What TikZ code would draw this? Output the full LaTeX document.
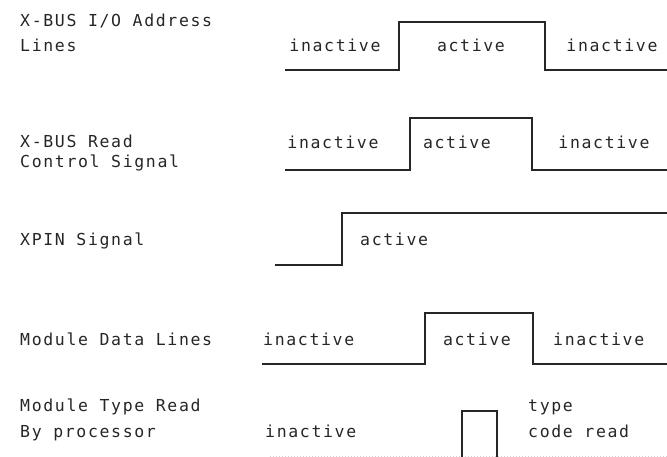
\documentclass[tikz,border=0pt]{standalone}
\usepackage{fontspec}
\setmainfont[LetterSpace=10]{DejaVu Sans Mono}
\begin{document}
\begin{tikzpicture}[x=1pt,y=-1pt,
  lbl/.style={inner sep=0pt,text height=12pt,text depth=0pt,font=\fontsize{16.5pt}{19pt}\selectfont,text=black!85},
  wave/.style={line width=1.2pt,black!85,line join=miter},
  faint/.style={line width=1pt,black!18,dotted}]
\useasboundingbox (0,0) rectangle (667,457);
% Row 1
\node[lbl,anchor=west] (r1a) at (20,21) {X-BUS I/O Address};
\node[lbl,anchor=west] (r1b) at (20,46) {Lines};
\draw[wave] (285,70) -- (399,70) -- (399,22) -- (545,22) -- (545,70) -- (667,70);
\node[lbl] (r1i) at (335,46) {inactive};
\node[lbl] (r1c) at (471,46) {active};
\node[lbl] (r1j) at (612,46) {inactive};
% Row 2
\node[lbl,anchor=west] (r2a) at (20,142) {X-BUS Read};
\node[lbl,anchor=west] (r2b) at (20,162) {Control Signal};
\draw[wave] (285,170) -- (410,170) -- (410,118) -- (532,118) -- (532,170) -- (667,170);
\node[lbl] (r2i) at (333,143) {inactive};
\node[lbl] (r2c) at (457,143) {active};
\node[lbl] (r2j) at (604,143) {inactive};
% Row 3
\node[lbl,anchor=west] (r3a) at (20,240) {XPIN Signal};
\draw[wave] (275,265) -- (342,265) -- (342,213) -- (667,213);
\node[lbl,anchor=west] (r3c) at (360,240) {active};
% Row 4
\node[lbl,anchor=west] (r4a) at (20,339) {Module Data Lines};
\draw[wave] (262,364) -- (425,364) -- (425,313) -- (533,313) -- (533,364) -- (667,364);
\node[lbl,anchor=west] (r4i) at (263,339) {inactive};
\node[lbl] (r4c) at (477,339) {active};
\node[lbl,anchor=west] (r4j) at (553,339) {inactive};
% Row 5
\node[lbl,anchor=west] (r5a) at (20,405) {Module Type Read};
\node[lbl,anchor=west] (r5b) at (20,431) {By processor};
\node[lbl,anchor=west] (r5i) at (265,431) {inactive};
\draw[faint] (270,456) -- (667,456);
\draw[wave] (462,457) -- (462,411) -- (497,411) -- (497,457);
\node[lbl,anchor=west] (r5t) at (528,405) {type};
\node[lbl,anchor=west] (r5c) at (528,431) {code read};
\end{tikzpicture}
\end{document}
